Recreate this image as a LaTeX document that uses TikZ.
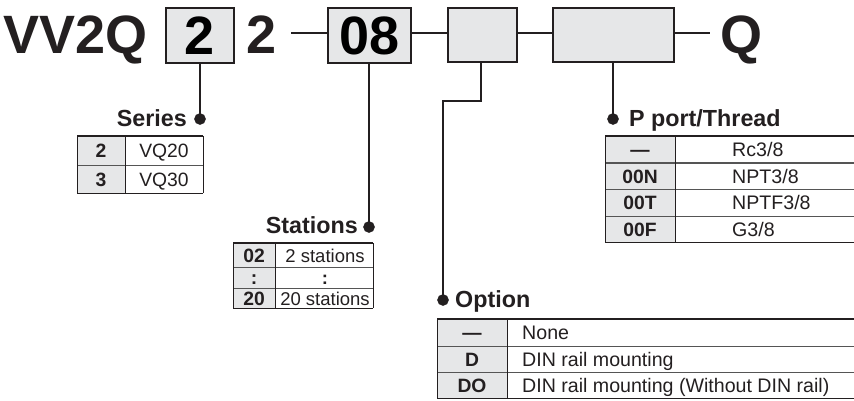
\documentclass[tikz,border=0pt]{standalone}
\usepackage{fontspec}
\setmainfont{Liberation Sans}
\definecolor{ink}{HTML}{231F20}
\definecolor{boxgray}{HTML}{E6E7E8}
\definecolor{rulegray}{HTML}{555555}
\tikzset{
  pbox/.style={draw=ink, line width=1.3pt, fill=boxgray, inner sep=0pt, minimum height=55pt},
  hdr/.style={font=\fontsize{54}{60}\selectfont\bfseries, inner sep=0pt, text=ink},
  conn/.style={draw=ink, line width=2.2pt},
  lead/.style={draw=ink, line width=1.6pt},
  leaddot/.style={circle, draw=ink, fill=ink, line width=0.5pt, inner sep=0pt, minimum size=11pt},
  heading/.style={font=\fontsize{23.3}{26}\selectfont\bfseries, inner sep=0pt, text=ink},
  celltxt/.style={font=\fontsize{19.3}{21}\selectfont, inner sep=0pt, anchor=base, text=ink},
  keytxt/.style={font=\fontsize{19.3}{21}\selectfont\bfseries, inner sep=0pt, anchor=base, text=ink},
  lefttxt/.style={font=\fontsize{19.6}{21}\selectfont, inner sep=0pt, anchor=base west, text=ink},
  smalltxt/.style={font=\fontsize{18.5}{20}\selectfont, inner sep=0pt, anchor=base, text=ink},
  rulel/.style={draw=rulegray, line width=1pt},
  ruled/.style={draw=ink, line width=1pt},
  toprule/.style={draw=ink, line width=2pt}
}
\begin{document}
\begin{tikzpicture}[x=1pt, y=-1pt]
\useasboundingbox (0,0) rectangle (854,401);

% ---------- header ----------
\node[hdr, anchor=base west] (vv2q) at (3,54) {VV2Q};
\node[pbox, minimum width=68pt] (b2) at (200,35.5) {\fontsize{54}{60}\selectfont\bfseries 2};
\node[hdr, anchor=base west] (t2) at (246,54) {2};
\node[pbox, minimum width=83pt] (b08) at (369.5,35.5) {\fontsize{54}{60}\selectfont\bfseries 08};
\node[pbox, minimum width=69pt, minimum height=54pt] (b3) at (482.5,35) {};
\node[pbox, minimum width=121pt, minimum height=54pt] (b4) at (613.5,35) {};
\node[hdr, anchor=base west] (tq) at (720,54) {Q};

\coordinate (c1) at (291,33);
\coordinate (c2) at (710,33);
\draw[conn] (c1) -- (b08.west |- c1);
\draw[conn] (b08.east |- c1) -- (b3.west |- c1);
\draw[conn] (b3.east |- c1) -- (b4.west |- c1);
\draw[conn] (b4.east |- c1) -- (c2);

% ---------- leaders ----------
\coordinate (pS) at (200,119);
\coordinate (pT) at (369,227);
\coordinate (pO) at (443,300);
\coordinate (pP) at (613,119);
\coordinate (oa) at (481,101);
\coordinate (ob) at (443,101);
\draw[lead] (b2.south -| pS) -- (pS);
\draw[lead] (b08.south -| pT) -- (pT);
\draw[lead] (b3.south -| oa) -- (oa) -- (ob) -- (pO);
\draw[lead] (b4.south -| pP) -- (pP);
\node[leaddot] (dS) at (pS) {};
\node[leaddot] (dT) at (pT) {};
\node[leaddot] (dO) at (pO) {};
\node[leaddot] (dP) at (pP) {};

% ---------- headings ----------
\node[heading, anchor=base east] (hS) at (187,127) {Series};
\node[heading, anchor=base east] (hT) at (358,233) {Stations};
\node[heading, anchor=base west] (hO) at (455,307) {Option};
\node[heading, anchor=base west] (hP) at (629,127) {P port/Thread};

% ---------- Series table ----------
\fill[boxgray] (77,136) rectangle (125,193);
\draw[rulel] (77,165) -- (203,165);
\draw[ruled] (77,193) -- (203,193);
\draw[ruled] (77,136) -- (77,193) (125,136) -- (125,193) (203,136) -- (203,193);
\draw[toprule] (77,136) -- (203,136);
\node[keytxt] (s2k) at (101,157.5) {2};
\node[celltxt] (s2v) at (164,157.5) {VQ20};
\node[keytxt] (s3k) at (101,186) {3};
\node[celltxt] (s3v) at (164,186) {VQ30};

% ---------- Stations table ----------
\fill[boxgray] (233,243) rectangle (275,308);
\draw[rulel] (233,267) -- (373,267) (233,288) -- (373,288);
\draw[ruled] (233,308) -- (373,308);
\draw[ruled] (233,243) -- (233,308) (275,243) -- (275,308) (373,243) -- (373,308);
\draw[toprule] (233,243) -- (373,243);
\node[keytxt] (t02k) at (254,262) {02};
\node[smalltxt] (t02v) at (325,262) {2 stations};
\node[keytxt] (tck) at (254,284.5) {:};
\node[smalltxt] (tcv) at (325,284.5) {\bfseries :};
\node[keytxt] (t20k) at (254,305) {20};
\node[smalltxt] (t20v) at (325,305) {20 stations};

% ---------- P port table ----------
\fill[boxgray] (605,136) rectangle (675,242);
\draw[rulel] (605,163) -- (854,163) (605,189) -- (854,189) (605,216) -- (854,216);
\draw[ruled] (605,242) -- (854,242);
\draw[ruled] (605,136) -- (605,242) (675,136) -- (675,242);
\draw[toprule] (605,136) -- (854,136);
\node[keytxt] (p1k) at (640,156.5) {—};
\node[lefttxt] (p1v) at (732,156.5) {Rc3/8};
\node[keytxt] (p2k) at (640,183) {00N};
\node[lefttxt] (p2v) at (732,183) {NPT3/8};
\node[keytxt] (p3k) at (640,209.5) {00T};
\node[lefttxt] (p3v) at (732,209.5) {NPTF3/8};
\node[keytxt] (p4k) at (640,236) {00F};
\node[lefttxt] (p4v) at (732,236) {G3/8};

% ---------- Option table ----------
\fill[boxgray] (437,319) rectangle (507,398);
\draw[rulel] (437,346) -- (854,346) (437,372) -- (854,372);
\draw[ruled] (437,398) -- (854,398);
\draw[ruled] (437,319) -- (437,398) (507,319) -- (507,398);
\draw[toprule] (437,319) -- (854,319);
\node[keytxt] (o1k) at (472,339.5) {—};
\node[lefttxt] (o1v) at (522,339.5) {None};
\node[keytxt] (o2k) at (472,366) {D};
\node[lefttxt] (o2v) at (522,366) {DIN rail mounting};
\node[keytxt] (o3k) at (472,392) {DO};
\node[lefttxt] (o3v) at (522,392) {DIN rail mounting (Without DIN rail)};
\end{tikzpicture}
\end{document}
